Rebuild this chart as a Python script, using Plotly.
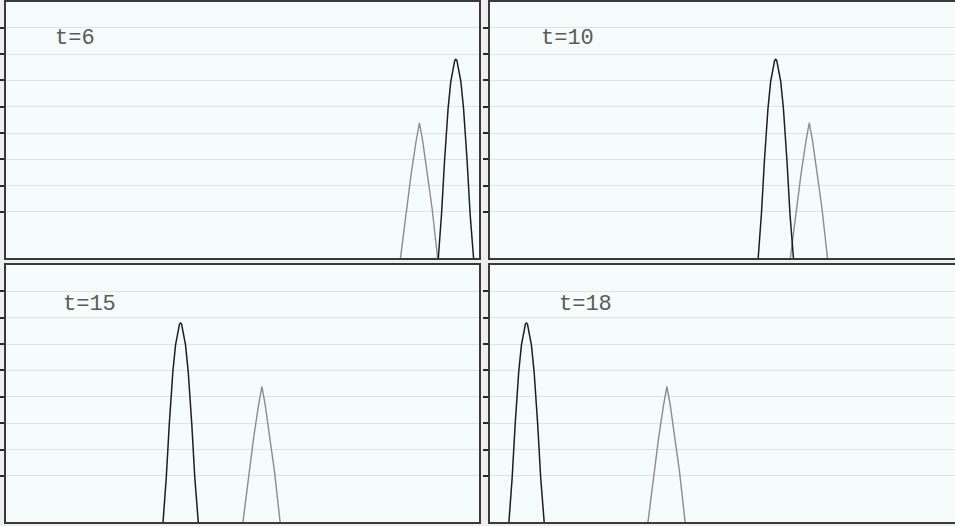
import plotly.graph_objects as go

# ---- data ----
PANEL_LABELS = ["t=6", "t=10", "t=15", "t=18"]
BLACK_CENTERS = [95.1, 60.4, 36.9, 7.7]
GRAY_CENTERS = [87.4, 67.5, 54.1, 37.4]

BLACK_DX = [-3.70, -3.02, -2.39, -1.63, -1.06, -0.22, 0.0, 0.22, 1.06, 1.63, 2.39, 3.02, 3.75]
BLACK_Y = [0.025, 0.192, 0.393, 0.594, 0.696, 0.776, 0.780, 0.776, 0.696, 0.594, 0.393, 0.192, 0.025]

GRAY_DX = [-4.0, -2.66, -1.75, -0.70, 0.0, 0.70, 1.75, 2.66, 3.85]
GRAY_Y = [0.025, 0.217, 0.344, 0.469, 0.539, 0.469, 0.344, 0.217, 0.025]

GRID_VALUES = [0.2, 0.3, 0.4, 0.5, 0.6, 0.7, 0.8, 0.9]
Y_RANGE = [0.025, 1.0]

W, H = 955, 526
X_DOMAINS = [[6 / W, 479 / W], [490 / W, 1.0], [6 / W, 479 / W], [490 / W, 1.0]]
Y_TOP = [1 - 258 / H, 1 - 1.5 / H]
Y_BOT = [1 - 522 / H, 1 - 265 / H]
Y_DOMAINS = [Y_TOP, Y_TOP, Y_BOT, Y_BOT]
X_RANGES = [[0, 100], [0, 100 * 465 / 473], [0, 100], [0, 100 * 465 / 473]]
LABEL_POS = [(0.100, 0.855), (0.106, 0.855), (0.117, 0.848), (0.145, 0.848)]

BORDER = "#3a3a3a"

fig = go.Figure()
layout = dict(
    width=W, height=H,
    margin=dict(l=0, r=0, t=0, b=0),
    paper_bgcolor="#efefef",
    plot_bgcolor="#f6fbfb",
    showlegend=False,
    annotations=[],
)

for i in range(4):
    sx = "" if i == 0 else str(i + 1)
    xa, ya = "x" + sx, "y" + sx
    fig.add_trace(go.Scatter(
        x=[GRAY_CENTERS[i] + d for d in GRAY_DX], y=GRAY_Y,
        xaxis=xa, yaxis=ya, mode="lines",
        line=dict(color="#8c8c8c", width=1.4), hoverinfo="skip"))
    fig.add_trace(go.Scatter(
        x=[BLACK_CENTERS[i] + d for d in BLACK_DX], y=BLACK_Y,
        xaxis=xa, yaxis=ya, mode="lines",
        line=dict(color="#1e1e1e", width=1.5), hoverinfo="skip"))
    layout["xaxis" + sx] = dict(
        domain=X_DOMAINS[i], range=X_RANGES[i], anchor=ya,
        showgrid=False, zeroline=False, showticklabels=False, ticks="",
        showline=True, linecolor=BORDER, linewidth=2, mirror=True,
        fixedrange=True)
    layout["yaxis" + sx] = dict(
        domain=Y_DOMAINS[i], range=Y_RANGE, anchor=xa,
        tickmode="array", tickvals=GRID_VALUES,
        showgrid=True, gridcolor="#e2e2e2", gridwidth=1,
        zeroline=False, showticklabels=False,
        ticks="outside", ticklen=5, tickwidth=2, tickcolor="#2a2a2a",
        showline=True, linecolor=BORDER, linewidth=2,
        mirror=(i % 2 == 0), fixedrange=True)
    layout["annotations"].append(dict(
        text=PANEL_LABELS[i], xref=xa + " domain", yref=ya + " domain",
        x=LABEL_POS[i][0], y=LABEL_POS[i][1], xanchor="left", yanchor="middle",
        showarrow=False, font=dict(family="Liberation Mono", size=22, color="#5a5a5a")))

fig.update_layout(**layout)
fig.write_html(
    "out.html",
    config={"displayModeBar": False},
    post_script="document.body.style.margin='0';document.body.style.overflow='hidden';",
)
